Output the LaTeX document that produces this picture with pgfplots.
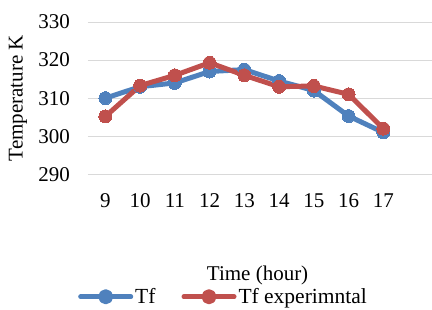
\documentclass[border=0pt]{standalone}
\usepackage{fontspec}
\setmainfont{Liberation Serif}
\usepackage{pgfplots}
\pgfplotsset{compat=1.18}
\definecolor{tfblue}{HTML}{4F81BD}
\definecolor{tfred}{HTML}{C0504D}
\definecolor{gridgray}{HTML}{D9D9D9}
\begin{document}
\begin{tikzpicture}
\useasboundingbox (-88pt,-134.7pt) rectangle (344pt,174.3pt);
\begin{axis}[
  at={(0pt,0pt)}, anchor=south west,
  scale only axis, width=344pt, height=152.3pt,
  xmin=8.5, xmax=18.4, ymin=290, ymax=330,
  xtick={9,10,11,12,13,14,15,16,17},
  ytick={290,300,310,320,330},
  axis line style={draw=none},
  tick style={draw=none},
  major tick length=0pt,
  ymajorgrids, grid style={gridgray, line width=1pt},
  font=\fontsize{21}{25}\selectfont,
  /pgf/number format/assume math mode=true,
  xticklabel style={anchor=base, yshift=-33.4pt, inner sep=0pt},
  yticklabel style={anchor=east, xshift=-18pt, inner sep=0pt},
  xlabel={Time (hour)},
  xlabel style={at={(axis description cs:0.493,-0.661)}, anchor=center, inner sep=0pt},
  ylabel={Temperature K},
  ylabel style={at={(axis description cs:-0.2035,0.5)}, anchor=center, rotate=0, inner sep=0pt},
  legend columns=2,
  legend style={at={(axis description cs:-0.029,-0.804)}, anchor=west, draw=none, fill=none,
    inner sep=0pt, nodes={inner sep=2pt, font=\fontsize{21.5}{25}\selectfont},
    /tikz/every even column/.append style={column sep=24pt}},
  clip=false,
]
\addplot[tfblue, line width=5pt, line join=round, mark=*, mark size=6.5pt, mark options={solid, fill=tfblue, draw=tfblue, line width=0pt},
  legend image code/.code={\draw[tfblue, line width=4.5pt, line cap=round] (2.25pt,0pt) -- (52.75pt,0pt); \fill[tfblue] (27.5pt,0pt) circle (5pt);}]
  coordinates {(9,310) (10,313) (11,314) (12,317) (13,317.5) (14,314.5) (15,312) (16,305.3) (17,301)};
\addlegendentry{Tf}
\addplot[tfred, line width=5pt, line join=round, mark=*, mark size=6.5pt, mark options={solid, fill=tfred, draw=tfred, line width=0pt},
  legend image code/.code={\draw[tfred, line width=4.5pt, line cap=round] (2.25pt,0pt) -- (52.75pt,0pt); \fill[tfred] (27.5pt,0pt) circle (5pt);}]
  coordinates {(9,305.2) (10,313.3) (11,316) (12,319.3) (13,316) (14,313) (15,313.2) (16,311) (17,302)};
\addlegendentry{Tf experimntal}
\end{axis}
\end{tikzpicture}
\end{document}
